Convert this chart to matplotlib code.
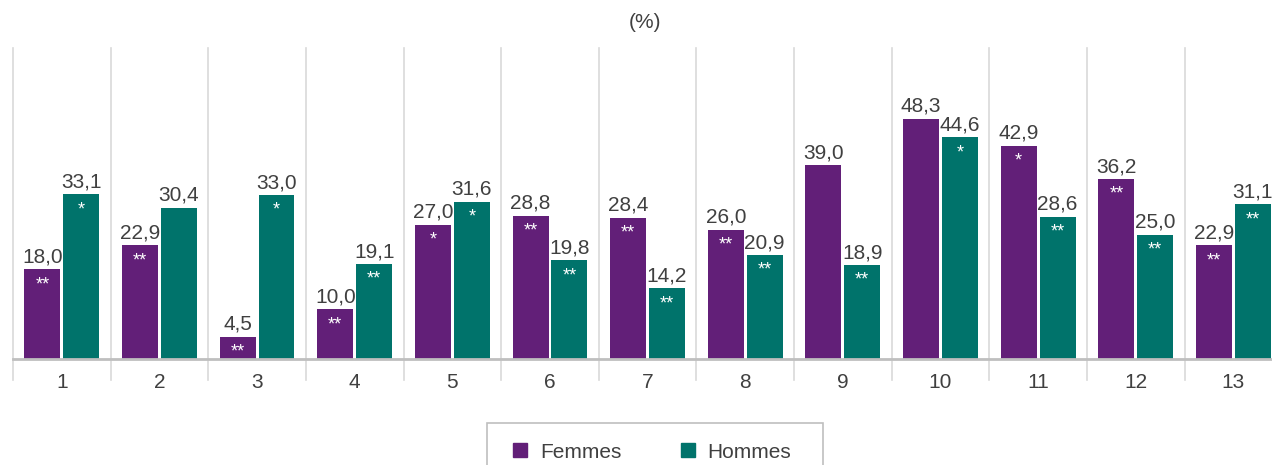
import matplotlib.pyplot as plt
import numpy as np
from matplotlib.patches import Patch, Rectangle

# Données
categories = ['1', '2', '3', '4', '5', '6', '7', '8', '9', '10', '11', '12', '13']
femmes = [18.0, 22.9, 4.5, 10.0, 27.0, 28.8, 28.4, 26.0, 39.0, 48.3, 42.9, 36.2, 22.9]
hommes = [33.1, 30.4, 33.0, 19.1, 31.6, 19.8, 14.2, 20.9, 18.9, 44.6, 28.6, 25.0, 31.1]
etoiles_femmes = ['**', '**', '**', '**', '*', '**', '**', '**', '', '', '*', '**', '**']
etoiles_hommes = ['*', '', '*', '**', '*', '**', '**', '**', '**', '*', '**', '**', '**']

VIOLET = '#621f78'
VERT = '#00736b'
GRIS_TEXTE = '#404040'
TAILLE = 15

plt.rcParams['font.family'] = ['Liberation Sans', 'DejaVu Sans']

W, H = 1272, 465
fig = plt.figure(figsize=(W / 100, H / 100), dpi=100)
# zone de tracé (pixels) : gauche 13, base 359, haut 48, largeur d'une catégorie 97.63
largeur_cat = 97.63
ax = fig.add_axes([13 / W, (H - 359) / H, 13 * largeur_cat / W, (359 - 48) / H])

x = np.arange(len(categories))
lb = 0.368
decal = 0.199
ax.bar(x - decal, femmes, lb, color=VIOLET, zorder=3)
ax.bar(x + decal, hommes, lb, color=VERT, zorder=3)

ax.set_xlim(-0.5, len(categories) - 0.5)
ax.set_ylim(0, 62.5)

# valeurs au-dessus des barres + étoiles dans les barres
for xs, vals, etoiles in [(x - decal, femmes, etoiles_femmes), (x + decal, hommes, etoiles_hommes)]:
    for xi, v, e in zip(xs, vals, etoiles):
        ax.annotate(('%.1f' % v).replace('.', ','), (xi, v), xytext=(0, 2),
                    textcoords='offset points', ha='center', va='bottom',
                    fontsize=TAILLE, color=GRIS_TEXTE)
        if e:
            ax.annotate(e, (xi, v), xytext=(0, -5), textcoords='offset points',
                        ha='center', va='top', fontsize=13, color='white', zorder=4)

# séparateurs verticaux entre catégories
trans = ax.get_xaxis_transform()
for b in np.arange(-0.5, len(categories), 1.0):
    ax.plot([b, b], [-21 / 311, 1], transform=trans, color='#d9d9d9', lw=1.2,
            clip_on=False, zorder=1)

for s in ['top', 'right', 'left']:
    ax.spines[s].set_visible(False)
ax.spines['bottom'].set_color('#bfbfbf')
ax.spines['bottom'].set_linewidth(2)
ax.spines['bottom'].set_zorder(4)
ax.set_yticks([])
ax.set_xticks(x)
ax.set_xticklabels(categories, fontsize=TAILLE, color=GRIS_TEXTE)
ax.tick_params(axis='x', length=0, pad=10)

fig.text(645 / W, 1 - 23 / H, '(%)', ha='center', va='center', fontsize=TAILLE, color=GRIS_TEXTE)

# cadre de la légende (coupé en bas comme dans l'original)
fig.patches.append(Rectangle((487 / W, -0.05), (823 - 487) / W, 0.05 + (465 - 423) / H,
                             transform=fig.transFigure, fill=False, edgecolor='#bfbfbf',
                             lw=1.2))
handles = [Patch(color=VIOLET, label='Femmes'), Patch(color=VERT, label='Hommes')]
leg = fig.legend(handles=handles, loc='center left', bbox_to_anchor=(513 / W, 1 - 452 / H),
                 ncol=2, frameon=False, fontsize=TAILLE,
                 handlelength=0.67, handleheight=0.67, handletextpad=0.63,
                 columnspacing=2.84, borderpad=0, borderaxespad=0)
for t in leg.get_texts():
    t.set_color(GRIS_TEXTE)

fig.savefig('out.png', dpi=100)
